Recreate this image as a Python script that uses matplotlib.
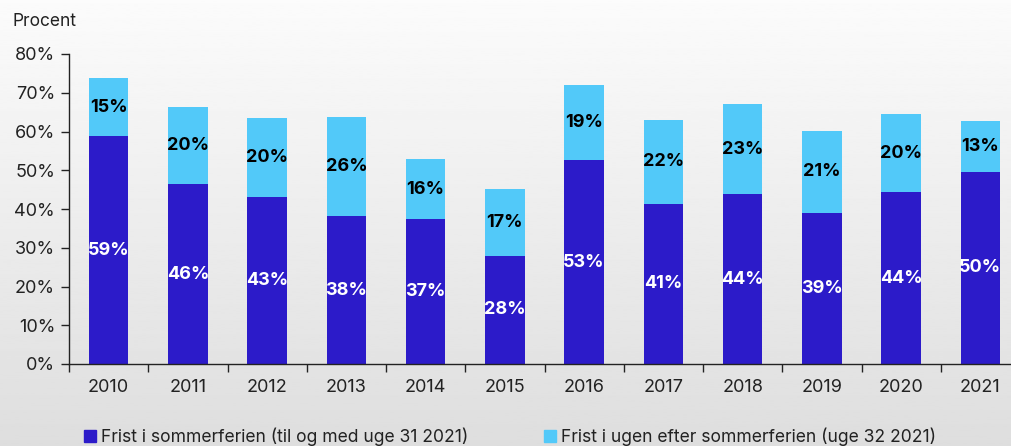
import numpy as np
import matplotlib
matplotlib.use("Agg")
import matplotlib.pyplot as plt
from matplotlib.patches import Patch

plt.rcParams['font.family'] = ['Inter', 'DejaVu Sans']

# data
years = ['2010', '2011', '2012', '2013', '2014', '2015',
         '2016', '2017', '2018', '2019', '2020', '2021']
in_holiday = [58.8, 46.4, 43.1, 38.1, 37.3, 28.0, 52.6, 41.3, 43.8, 39.0, 44.3, 49.6]
week_after = [15.0, 20.0, 20.4, 25.6, 15.6, 17.2, 19.4, 21.7, 23.3, 21.1, 20.2, 13.1]
series_names = ['Frist i sommerferien (til og med uge 31 2021)',
                'Frist i ugen efter sommerferien (uge 32 2021)']

dark = '#2C1BC9'
light = '#52C9F9'

W, H = 1011, 446
fig = plt.figure(figsize=(W / 100, H / 100), dpi=100)

# background gradient, light at top -> grey at bottom
bg = fig.add_axes([0, 0, 1, 1], zorder=-10)
grad = np.linspace(0.985, 0.87, 256).reshape(-1, 1)
bg.imshow(grad, aspect='auto', cmap='gray', vmin=0, vmax=1, extent=[0, 1, 0, 1])
bg.axis('off')

# axes in pixel units
x0, x1 = 69, 1020
y_top, y_bot = 54, 364
ax = fig.add_axes([x0 / W, 1 - y_bot / H, (x1 - x0) / W, (y_bot - y_top) / H])
ax.patch.set_alpha(0)

x = np.arange(len(years))
ax.bar(x, in_holiday, width=0.5, color=dark, edgecolor='none')
ax.bar(x, week_after, width=0.5, bottom=in_holiday, color=light, edgecolor='none')

for i in range(len(years)):
    ax.text(x[i], in_holiday[i] / 2, f'{round(in_holiday[i])}%', ha='center', va='center',
            color='white', fontsize=13, fontweight='bold')
    ax.text(x[i], in_holiday[i] + week_after[i] / 2, f'{round(week_after[i])}%',
            ha='center', va='center', color='black', fontsize=13, fontweight='bold')

ax.set_xlim(-0.5, 11.5)
ax.set_ylim(0, 80)
ax.set_yticks(range(0, 81, 10))
ax.set_yticklabels([f'{v}%' for v in range(0, 81, 10)], fontsize=13, color='#222222')
ax.set_xticks(x)
ax.set_xticklabels(years, fontsize=13, color='#222222')
ax.set_xticks(np.arange(-0.5, 12, 1), minor=True)
ax.tick_params(axis='x', which='major', length=0, pad=11)
ax.tick_params(axis='x', which='minor', length=6, width=1, color='#222222')
ax.tick_params(axis='y', length=6, width=1, color='#222222', pad=4)

for s in ['top', 'right']:
    ax.spines[s].set_visible(False)
for s in ['left', 'bottom']:
    ax.spines[s].set_color('#222222')
    ax.spines[s].set_linewidth(1)

fig.text(12 / W, 1 - 22 / H, 'Procent', fontsize=12.5, va='center', ha='left', color='#222222')

handles = [Patch(color=dark), Patch(color=light)]
fig.legend(handles, series_names, loc='center', bbox_to_anchor=(510 / W, 1 - 437 / H),
           ncol=2, frameon=False, fontsize=12.6, handlelength=0.65, handleheight=0.65,
           handletextpad=0.3, columnspacing=4.35, labelcolor='#222222')

fig.savefig('out.png', dpi=100)
